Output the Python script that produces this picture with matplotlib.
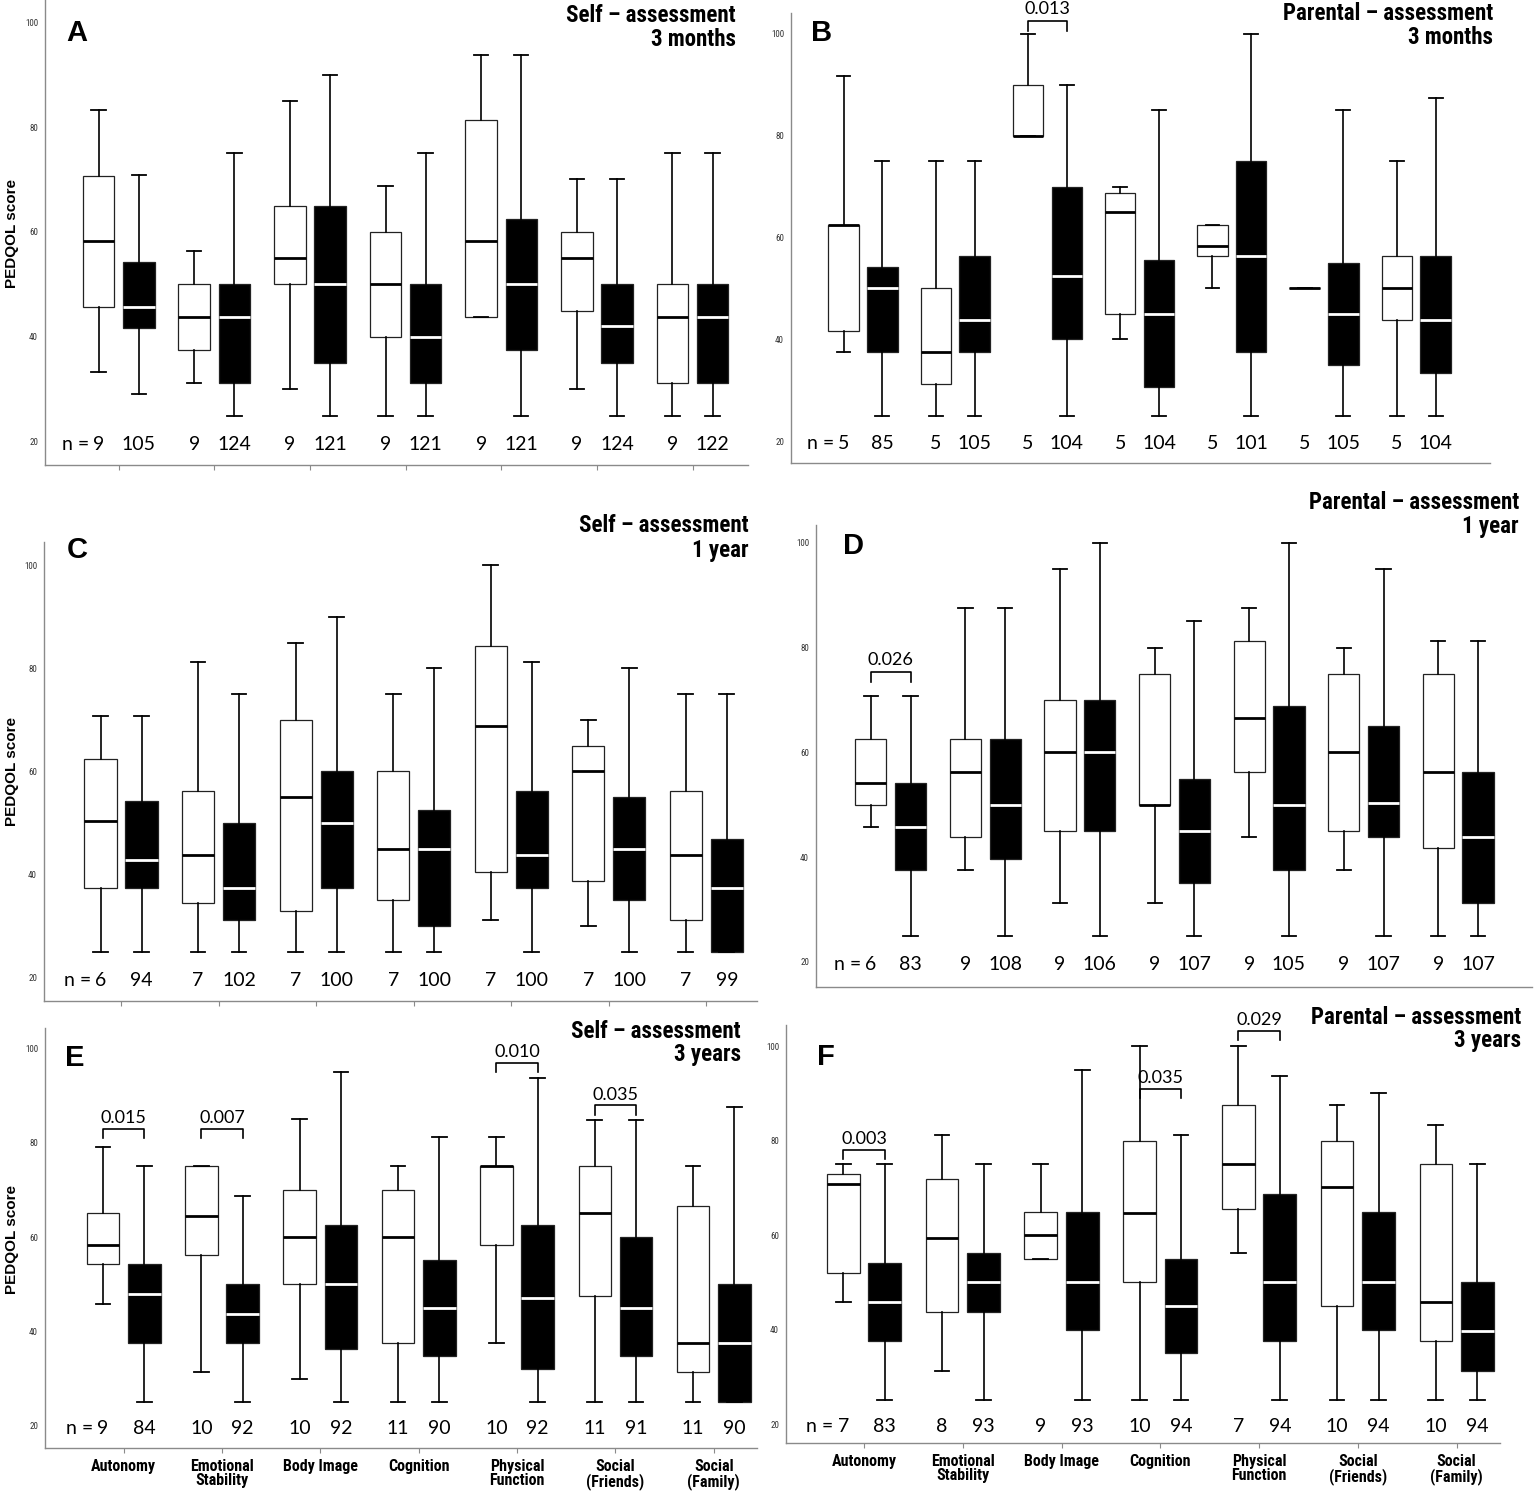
import matplotlib
matplotlib.use("Agg")
import matplotlib.pyplot as plt
from matplotlib import font_manager

# PedsQL domain scores, white = first group, black = second group
# each row: [lower whisker, Q1, median, Q3, upper whisker]
CATEGORIES = ["Autonomy", "Emotional\nStability", "Body Image", "Cognition",
              "Physical\nFunction", "Social\n(Friends)", "Social\n(Family)"]

A_WHITE = [[33.3, 45.7, 58.3, 70.7, 83.3],
           [31.3, 37.5, 43.8, 50.0, 56.3],
           [30.0, 50.0, 55.0, 65.0, 85.0],
           [25.0, 40.0, 50.0, 60.0, 68.8],
           [43.8, 43.8, 58.3, 81.3, 93.8],
           [30.0, 45.0, 55.0, 60.0, 70.0],
           [25.0, 31.3, 43.8, 50.0, 75.0]]
A_BLACK = [[29.2, 41.7, 45.8, 54.2, 70.8],
           [25.0, 31.3, 43.8, 50.0, 75.0],
           [25.0, 35.0, 50.0, 65.0, 90.0],
           [25.0, 31.3, 40.0, 50.0, 75.0],
           [25.0, 37.5, 50.0, 62.5, 93.8],
           [25.0, 35.0, 42.0, 50.0, 70.0],
           [25.0, 31.3, 43.8, 50.0, 75.0]]
A_N_WHITE = [9, 9, 9, 9, 9, 9, 9]
A_N_BLACK = [105, 124, 121, 121, 121, 124, 122]

B_WHITE = [[37.5, 41.7, 62.5, 62.5, 91.7],
           [25.0, 31.3, 37.5, 50.0, 75.0],
           [80.0, 80.0, 80.0, 90.0, 100.0],
           [40.0, 45.0, 65.0, 68.8, 70.0],
           [50.0, 56.3, 58.3, 62.5, 62.5],
           [50.0, 50.0, 50.0, 50.0, 50.0],
           [25.0, 43.8, 50.0, 56.3, 75.0]]
B_BLACK = [[25.0, 37.5, 50.0, 54.2, 75.0],
           [25.0, 37.5, 43.8, 56.3, 75.0],
           [25.0, 40.0, 52.5, 70.0, 90.0],
           [25.0, 30.6, 45.0, 55.6, 85.0],
           [25.0, 37.5, 56.3, 75.0, 100.0],
           [25.0, 35.0, 45.0, 55.0, 85.0],
           [25.0, 33.3, 43.8, 56.3, 87.5]]
B_N_WHITE = [5, 5, 5, 5, 5, 5, 5]
B_N_BLACK = [85, 105, 104, 104, 101, 105, 104]

C_WHITE = [[25.0, 37.5, 50.4, 62.5, 70.8],
           [25.0, 34.5, 43.8, 56.3, 81.3],
           [25.0, 33.0, 55.0, 70.0, 85.0],
           [25.0, 35.0, 45.0, 60.0, 75.0],
           [31.3, 40.6, 68.8, 84.4, 100.0],
           [30.0, 38.8, 60.0, 65.0, 70.0],
           [25.0, 31.3, 43.8, 56.3, 75.0]]
C_BLACK = [[25.0, 37.5, 42.9, 54.2, 70.8],
           [25.0, 31.3, 37.5, 50.0, 75.0],
           [25.0, 37.5, 50.0, 60.0, 90.0],
           [25.0, 30.0, 45.0, 52.5, 80.0],
           [25.0, 37.5, 43.8, 56.3, 81.3],
           [25.0, 35.0, 45.0, 55.0, 80.0],
           [25.0, 25.0, 37.5, 46.9, 75.0]]
C_N_WHITE = [6, 7, 7, 7, 7, 7, 7]
C_N_BLACK = [94, 102, 100, 100, 100, 100, 99]

D_WHITE = [[45.8, 50.0, 54.2, 62.5, 70.8],
           [37.5, 43.8, 56.3, 62.5, 87.5],
           [31.3, 45.0, 60.0, 70.0, 95.0],
           [31.3, 50.0, 50.0, 75.0, 80.0],
           [43.8, 56.3, 66.5, 81.3, 87.5],
           [37.5, 45.0, 60.0, 75.0, 80.0],
           [25.0, 41.7, 56.3, 75.0, 81.3]]
D_BLACK = [[25.0, 37.5, 45.8, 54.2, 70.8],
           [25.0, 39.6, 50.0, 62.5, 87.5],
           [25.0, 45.0, 60.0, 70.0, 100.0],
           [25.0, 35.0, 45.0, 55.0, 85.0],
           [25.0, 37.5, 50.0, 68.8, 100.0],
           [25.0, 43.8, 50.3, 65.0, 95.0],
           [25.0, 31.3, 43.8, 56.3, 81.3]]
D_N_WHITE = [6, 9, 9, 9, 9, 9, 9]
D_N_BLACK = [83, 108, 106, 107, 105, 107, 107]

E_WHITE = [[45.8, 54.2, 58.3, 65.0, 79.0],
           [31.3, 56.3, 64.4, 75.0, 75.0],
           [30.0, 50.0, 60.0, 70.0, 85.0],
           [25.0, 37.5, 60.0, 70.0, 75.0],
           [37.5, 58.3, 75.0, 75.0, 81.3],
           [25.0, 47.6, 65.0, 75.0, 84.7],
           [25.0, 31.3, 37.5, 66.5, 75.0]]
E_BLACK = [[25.0, 37.5, 47.9, 54.2, 75.0],
           [25.0, 37.5, 43.8, 50.0, 68.8],
           [25.0, 36.2, 50.0, 62.5, 95.0],
           [25.0, 34.8, 45.0, 55.1, 81.3],
           [25.0, 32.1, 47.1, 62.5, 93.8],
           [25.0, 34.8, 45.0, 60.0, 84.7],
           [25.0, 25.0, 37.5, 50.0, 87.5]]
E_N_WHITE = [9, 10, 10, 11, 10, 11, 11]
E_N_BLACK = [84, 92, 92, 90, 92, 91, 90]

F_WHITE = [[45.8, 52.0, 70.9, 72.9, 75.0],
           [31.3, 43.8, 59.3, 72.0, 81.3],
           [55.0, 55.0, 60.0, 65.0, 75.0],
           [25.0, 50.0, 64.6, 80.0, 100.0],
           [56.3, 65.5, 75.0, 87.5, 100.0],
           [25.0, 45.0, 70.1, 80.0, 87.5],
           [25.0, 37.5, 45.8, 75.0, 83.3]]
F_BLACK = [[25.0, 37.5, 45.8, 54.2, 75.0],
           [25.0, 43.8, 50.0, 56.3, 75.0],
           [25.0, 40.0, 50.0, 65.0, 95.0],
           [25.0, 35.0, 45.0, 55.0, 81.3],
           [25.0, 37.5, 50.0, 68.8, 93.8],
           [25.0, 40.0, 50.0, 65.0, 90.0],
           [25.0, 31.3, 39.7, 50.0, 75.0]]
F_N_WHITE = [7, 8, 9, 10, 7, 10, 10]
F_N_BLACK = [83, 93, 93, 94, 94, 94, 94]

# significance brackets: (category index, bracket height, p-value)
B_PVALS = [(2, 102.6, "0.013")]
D_PVALS = [(0, 75.4, "0.026")]
E_PVALS = [(0, 83.0, "0.015"), (1, 83.0, "0.007"), (4, 96.9, "0.010"), (5, 87.9, "0.035")]
F_PVALS = [(0, 78.1, "0.003"), (3, 91.0, "0.035"), (4, 103.3, "0.029")]

YTICKS = [20, 40, 60, 80, 100]

# fonts
installed = {f.name for f in font_manager.fontManager.ttflist}
NARROW = "DejaVu Sans"
for cand in ["Liberation Sans Narrow", "Roboto Condensed", "Open Sans Condensed", "Liberation Sans"]:
    if cand in installed:
        NARROW = cand
        break
PLAIN = "Lato" if "Lato" in installed else "DejaVu Sans"
ARIAL = "Liberation Sans" if "Liberation Sans" in installed else "DejaVu Sans"

W, H = 1535, 1492
fig = plt.figure(figsize=(W / 100, H / 100), dpi=100)
fig.patch.set_facecolor("white")

OFF = 0.21      # half distance between white and black box
BOX_W = 0.33
CAP_W = 0.15


def px_axes(left, top, right, bottom):
    return fig.add_axes([left / W, 1 - bottom / H, (right - left) / W, (bottom - top) / H])


def draw_boxes(ax, rows, pos, face, med_color):
    stats = [dict(whislo=r[0], q1=r[1], med=r[2], q3=r[3], whishi=r[4], fliers=[]) for r in rows]
    ax.bxp(stats, positions=pos, widths=BOX_W, capwidths=CAP_W, patch_artist=True,
           showfliers=False, manage_ticks=False,
           boxprops=dict(facecolor=face, edgecolor="#222222", linewidth=0.9),
           medianprops=dict(color=med_color, linewidth=2.0, solid_capstyle="butt"),
           whiskerprops=dict(color="black", linewidth=1.2),
           capprops=dict(color="black", linewidth=1.3))


def panel(rect, ylim, xlim, white, black, n_white, n_black, pvals, show_ticks, labels):
    ax = px_axes(*rect)
    x = list(range(len(CATEGORIES)))
    xw = [i - OFF for i in x]
    xb = [i + OFF for i in x]
    draw_boxes(ax, white, xw, "white", "black")
    draw_boxes(ax, black, xb, "black", "white")

    ax.set_ylim(*ylim)
    ax.set_xlim(*xlim)
    ax.set_yticks(YTICKS)
    ax.set_yticklabels([str(t) for t in YTICKS], fontsize=6.5, family=NARROW, color="#333333")
    ax.tick_params(axis="y", length=0, pad=5)
    for s in ["top", "right"]:
        ax.spines[s].set_visible(False)
    for s in ["left", "bottom"]:
        ax.spines[s].set_color("#8a8a8a")
        ax.spines[s].set_linewidth(1.0)

    if show_ticks:
        ax.set_xticks(x)
        ax.tick_params(axis="x", length=3.6, width=0.8, color="#8a8a8a", pad=4.5)
        if labels:
            ax.set_xticklabels(CATEGORIES, fontsize=11.5, fontweight="bold", family=NARROW,
                               linespacing=0.9)
        else:
            ax.set_xticklabels([])
    else:
        ax.set_xticks([])

    # sample sizes
    for i in x:
        ax.text(xw[i], 19.5, str(n_white[i]), ha="center", va="center", fontsize=14, family=PLAIN)
        ax.text(xb[i], 19.5, str(n_black[i]), ha="center", va="center", fontsize=14, family=PLAIN)
    ax.text(xw[0] - 0.1, 19.5, "n =", ha="right", va="center", fontsize=14, family=PLAIN)

    # p-value brackets
    for g, top, lab in pvals:
        ax.plot([xw[g], xw[g], xb[g], xb[g]], [top - 2.0, top, top, top - 2.0],
                color="black", linewidth=1.2, clip_on=False)
        ax.text(x[g], top + 2.3, lab, ha="center", va="center", fontsize=13,
                family=PLAIN, clip_on=False)
    return ax


panel((45, 0, 748, 465), (15.6, 104.2), (-0.77, 6.58), A_WHITE, A_BLACK, A_N_WHITE, A_N_BLACK, [], True, False)
panel((791, 13, 1490, 463), (15.7, 104.1), (-0.78, 6.80), B_WHITE, B_BLACK, B_N_WHITE, B_N_BLACK, B_PVALS, False, False)
panel((44, 542, 757, 1001), (15.5, 104.5), (-0.79, 6.52), C_WHITE, C_BLACK, C_N_WHITE, C_N_BLACK, [], True, False)
panel((816, 525, 1532, 987), (15.2, 103.4), (-0.79, 6.78), D_WHITE, D_BLACK, D_N_WHITE, D_N_BLACK, D_PVALS, False, False)
panel((45, 1028, 757, 1448), (15.3, 104.3), (-0.80, 6.44), E_WHITE, E_BLACK, E_N_WHITE, E_N_BLACK, E_PVALS, True, True)
panel((786, 1025, 1500, 1443), (16.0, 104.5), (-0.79, 6.44), F_WHITE, F_BLACK, F_N_WHITE, F_N_BLACK, F_PVALS, True, True)

# panel titles (right aligned, two lines)
titles = [("Self \u2013 assessment", "3 months", 736, 15, 39),
          ("Parental \u2013 assessment", "3 months", 1493, 13, 37),
          ("Self \u2013 assessment", "1 year", 749, 525, 550),
          ("Parental \u2013 assessment", "1 year", 1519, 503, 527),
          ("Self \u2013 assessment", "3 years", 741, 1031, 1055),
          ("Parental \u2013 assessment", "3 years", 1521, 1017, 1040)]
for l1, l2, xr, y1, y2 in titles:
    fig.text(xr / W, 1 - y1 / H, l1, ha="right", va="center", fontsize=16.5, fontweight="bold", family=NARROW)
    fig.text(xr / W, 1 - y2 / H, l2, ha="right", va="center", fontsize=16.5, fontweight="bold", family=NARROW)

# panel letters
for lab, xc, yc in [("A", 77, 33), ("B", 822, 33), ("C", 77, 550),
                    ("D", 853, 546), ("E", 75, 1058), ("F", 826, 1057)]:
    fig.text(xc / W, 1 - yc / H, lab, ha="center", va="center", fontsize=21, fontweight="bold", family=ARIAL)

# y-axis titles
for yc in [233, 772, 1240]:
    fig.text(12 / W, 1 - yc / H, "PEDQOL score", rotation=90, ha="center", va="center",
             fontsize=11, fontweight="bold", family=ARIAL)

fig.savefig("out.png", dpi=100, facecolor="white")
